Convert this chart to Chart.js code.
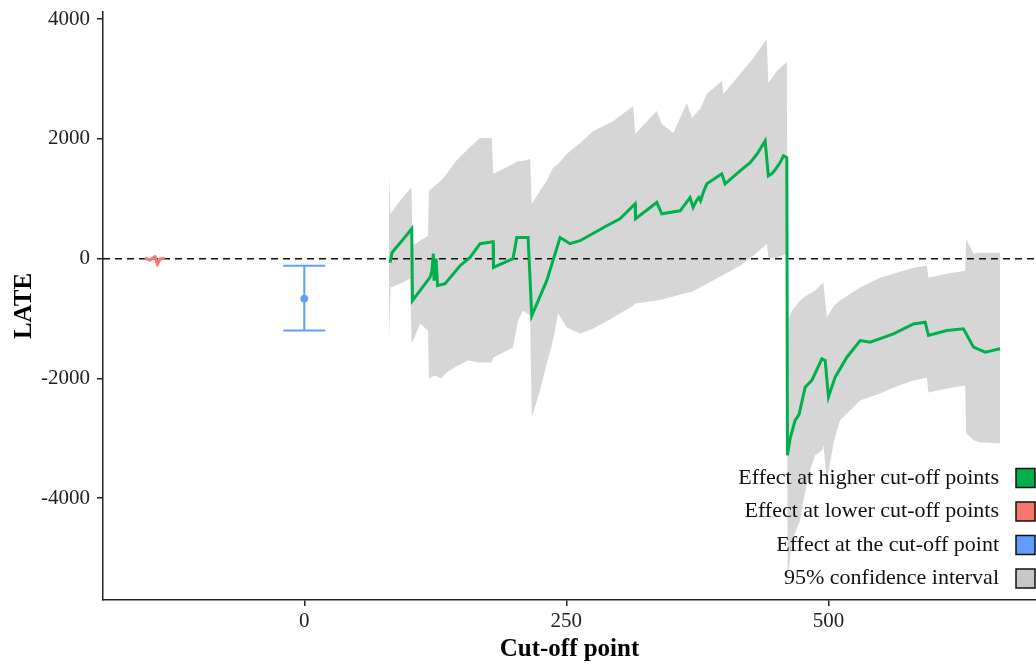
<!DOCTYPE html>
<html>
<head>
<meta charset="utf-8">
<title>LATE by cut-off point</title>
<script src="https://cdn.jsdelivr.net/npm/chart.js@4.4.1/dist/chart.umd.min.js"></script>
<style>
  html, body { margin: 0; padding: 0; background: #fff; }
  #wrap { width: 1036px; height: 667px; }
</style>
</head>
<body>
<div id="wrap"><canvas id="chart" width="1036" height="667"></canvas></div>
<script>
/* =========================================================
   Données
   ========================================================= */
const xTicks = [0, 250, 500];
const yTicks = [-4000, -2000, 0, 2000, 4000];

/* Effet aux seuils plus élevés (ligne verte) */
const higherCut  = [81.8, 83.7, 87.5, 93.2, 102.5, 103.2, 110.4, 119.9, 121.8, 123.1, 123.8, 125.7, 127.1, 134.3,
                    148.6, 158.1, 167.7, 180.1, 180.5, 199.1, 202.7, 213.5, 217.0, 231.3, 244.0, 253.5, 263.1,
                    288.5, 301.2, 315.6, 316.0, 336.3, 341.0, 358.5, 368.0, 370.9, 374.0, 376.4, 378.0, 381.2,
                    384.0, 398.3, 401.4, 415.7, 425.3, 432.0, 439.6, 442.7, 446.0, 449.0, 453.9, 457.1, 460.3,
                    460.9, 463.5, 468.2, 472.0, 477.8, 484.2, 493.7, 496.9, 500.0, 506.4, 517.6, 530.3, 539.8,
                    562.0, 581.1, 592.3, 595.4, 613.0, 628.8, 638.4, 649.5, 655.0, 663.8];
const higherLate = [-67, 100, 183, 300, 500, -700, -533, -311, -200, 83, -367, 0, -450, -417,
                    -117, 22, 250, 283, -145, 0, 355, 355, -950, -367, 355, 250, 300,
                    550, 667, 917, 667, 939, 750, 800, 1022, 855, 967, 1022, 967, 1133,
                    1250, 1417, 1250, 1467, 1605, 1750, 1967, 1383, 1420, 1480, 1605, 1717, 1689,
                    -3283, -3000, -2700, -2600, -2145, -2033, -1672, -1700, -2311, -1978, -1645, -1367, -1395,
                    -1255, -1089, -1061, -1283, -1200, -1172, -1478, -1561, -1540, -1505];

/* Intervalle de confiance à 95 % (bande grise) */
const bandCut   = [80.8, 82.3, 91.3, 101.0, 102.3, 103.2, 110.4, 118.0, 119.0, 124.7, 130.4, 135.9, 144.8,
                   156.2, 167.7, 178.8, 180.3, 189.6, 199.1, 203.9, 208.7, 215.4, 217.0, 224.9, 231.3, 237.3,
                   242.1, 250.4, 263.1, 275.8, 294.8, 313.9, 315.6, 336.3, 341.0, 352.1, 364.9, 369.7, 377.6,
                   384.0, 398.3, 399.8, 415.7, 428.4, 441.2, 442.7, 450.8, 460.3, 461.1, 465.4, 473.0, 476.1,
                   482.5, 487.3, 494.0, 495.2, 498.5, 505.4, 511.1, 530.2, 549.3, 562.0, 581.1, 593.8, 595.4,
                   613.0, 630.4, 631.4, 638.4, 644.7, 663.8];
const bandUpper = [1383, 750, 967, 1167, 1167, 217, 300, 383, 1133, 1217, 1300, 1417, 1633,
                   1833, 2017, 2017, 1417, 1500, 1583, 1633, 1633, 1667, 917, 1133, 1300, 1517,
                   1583, 1750, 1933, 2133, 2300, 2550, 2083, 2467, 2250, 2100, 2600, 2350, 2500,
                   2750, 2967, 2750, 3083, 3350, 3667, 2933, 3133, 3283, -1033, -867, -700, -650,
                   -583, -533, -417, -400, -983, -783, -700, -483, -317, -250, -150, -117, -317,
                   -250, -200, 333, 83, 100, 100];
const bandLower = [-1367, -483, -417, -333, -1400, -1400, -1083, -1200, -2000, -1950, -2000, -1900, -1800,
                   -1700, -1733, -1733, -1650, -1567, -1483, -1033, -867, -950, -2650, -2200, -1750, -1367,
                   -917, -1150, -1250, -1167, -983, -783, -750, -700, -683, -633, -567, -550, -483,
                   -417, -283, -267, -117, 50, 250, 17, 17, 83, -5367, -4700, -4367, -4033,
                   -3533, -3283, -3200, -3117, -3700, -3033, -2700, -2367, -2250, -2150, -2033, -1983, -2233,
                   -2167, -2117, -2917, -3033, -3067, -3083];

/* Effet aux seuils plus bas (rouge) */
const lowerCut  = [-152, -147.3, -142.4, -140.1, -137.5, -132.8];
const lowerLate = [12, -22, 33, -88, -5, 5];

/* Effet au seuil (bleu) avec IC */
const pointCut  = [0];
const pointLate = [-667];
const pointLow  = [-1200];
const pointHigh = [-117];

const legendLabels = [
  'Effect at higher cut-off points',
  'Effect at lower cut-off points',
  'Effect at the cut-off point',
  '95% confidence interval',
];

/* ---- Couleurs ---- */
const GREEN = '#00B04A';
const RED   = '#F8766D';
const BLUE  = '#619CFF';
const GREY  = '#D6D6D6';
const legendColors = [GREEN, RED, BLUE, '#C8C8C8'];

const X_MIN = -192, X_MAX = 698;
const Y_MIN = -5700, Y_MAX = 4120;
const CAP = 20;
const SERIF = '"Liberation Serif", "Times New Roman", serif';

const pts = (xs, ys) => xs.map((x, i) => ({ x, y: ys[i] }));

/* ---- Légende dessinée dans la zone du graphique ---- */
const legendInside = {
  id: 'legendInside',
  afterDraw(chart) {
    const { ctx, chartArea } = chart;
    const right = chartArea.right;
    ctx.save();
    ctx.font = `22px ${SERIF}`;
    ctx.textAlign = 'right';
    ctx.textBaseline = 'middle';
    legendLabels.forEach((label, i) => {
      const y = 478 + i * 33.5;
      ctx.fillStyle = '#111';
      ctx.fillText(label, right - 37, y);
      ctx.fillStyle = legendColors[i];
      ctx.fillRect(right - 20, y - 9.5, 19, 19);
      ctx.strokeStyle = '#111';
      ctx.lineWidth = 1.5;
      ctx.strokeRect(right - 20, y - 9.5, 19, 19);
    });
    ctx.restore();
  },
};

const axisCommon = {
  type: 'linear',
  border: { display: true, color: '#222', width: 1.5 },
  grid: { drawOnChartArea: false, drawTicks: true, tickLength: 6, color: '#222', lineWidth: 1.5 },
};

new Chart(document.getElementById('chart'), {
  type: 'line',
  data: {
    datasets: [
      {
        label: 'upper',
        data: pts(bandCut, bandUpper),
        borderWidth: 0,
        backgroundColor: GREY,
        fill: '+1',
        pointRadius: 0,
        order: 10,
      },
      {
        label: 'lower',
        data: pts(bandCut, bandLower),
        borderWidth: 0,
        pointRadius: 0,
        fill: false,
        order: 10,
      },
      {
        label: 'zero',
        data: [{ x: X_MIN, y: 0 }, { x: X_MAX, y: 0 }],
        borderColor: '#111',
        borderWidth: 1.6,
        borderDash: [7, 5],
        pointRadius: 0,
        order: 5,
      },
      {
        label: 'higher',
        data: pts(higherCut, higherLate),
        borderColor: GREEN,
        borderWidth: 3,
        pointRadius: 0,
        tension: 0,
        order: 1,
      },
      {
        label: 'lower cut-offs',
        data: pts(lowerCut, lowerLate),
        borderColor: RED,
        borderWidth: 3,
        pointRadius: 0,
        order: 1,
      },
      {
        label: 'ci stem',
        data: [{ x: pointCut[0], y: pointHigh[0] }, { x: pointCut[0], y: pointLow[0] }],
        borderColor: BLUE,
        borderWidth: 2,
        pointRadius: 0,
        order: 2,
      },
      {
        label: 'ci cap high',
        data: [{ x: pointCut[0] - CAP, y: pointHigh[0] }, { x: pointCut[0] + CAP, y: pointHigh[0] }],
        borderColor: BLUE,
        borderWidth: 2,
        pointRadius: 0,
        order: 2,
      },
      {
        label: 'ci cap low',
        data: [{ x: pointCut[0] - CAP, y: pointLow[0] }, { x: pointCut[0] + CAP, y: pointLow[0] }],
        borderColor: BLUE,
        borderWidth: 2,
        pointRadius: 0,
        order: 2,
      },
      {
        label: 'point',
        data: pts(pointCut, pointLate),
        showLine: false,
        pointRadius: 3.5,
        pointBackgroundColor: BLUE,
        pointBorderColor: BLUE,
        order: 1,
      },
    ],
  },
  options: {
    responsive: false,
    animation: false,
    layout: { autoPadding: false, padding: { top: 12, right: 0, bottom: 0, left: 0 } },
    plugins: {
      legend: { display: false },
      tooltip: { enabled: false },
    },
    scales: {
      x: {
        ...axisCommon,
        min: X_MIN,
        max: X_MAX,
        afterBuildTicks: s => { s.ticks = xTicks.map(v => ({ value: v })); },
        afterFit: s => { s.height = 67; s.paddingLeft = 0; s.paddingRight = 0; },
        ticks: { font: { family: SERIF, size: 21 }, color: '#222', padding: 3, maxRotation: 0, callback: v => String(v) },
        title: { display: true, text: 'Cut-off point', color: '#000',
                 font: { family: SERIF, size: 25, weight: 'bold' }, padding: { top: 0, bottom: 2 } },
      },
      y: {
        ...axisCommon,
        min: Y_MIN,
        max: Y_MAX,
        afterBuildTicks: s => { s.ticks = yTicks.map(v => ({ value: v })); },
        afterFit: s => { s.width = 103; s.paddingTop = 0; s.paddingBottom = 0; },
        ticks: { font: { family: SERIF, size: 21 }, color: '#222', padding: 7, callback: v => String(v) },
        title: { display: true, text: 'LATE', color: '#000',
                 font: { family: SERIF, size: 25, weight: 'bold' }, padding: { top: 10, bottom: 0 } },
      },
    },
  },
  plugins: [legendInside],
});
</script>
</body>
</html>
